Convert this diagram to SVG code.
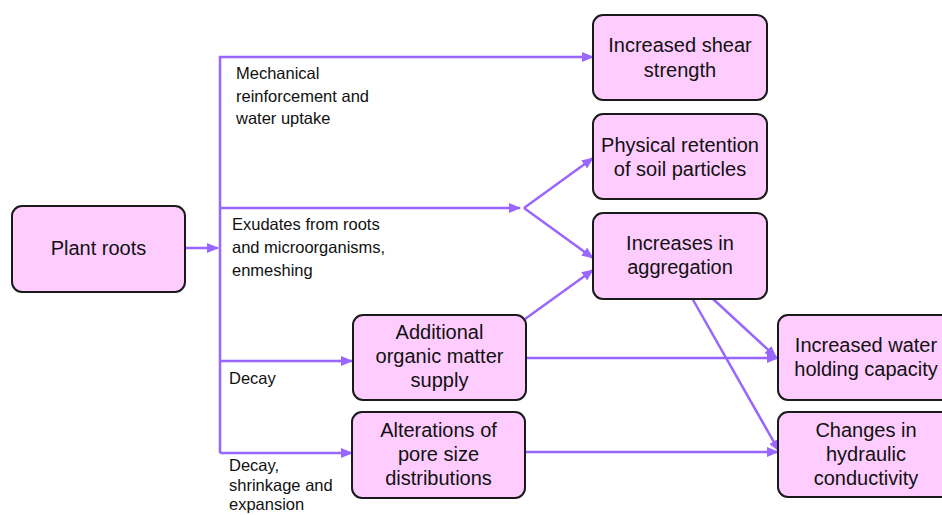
<svg xmlns="http://www.w3.org/2000/svg" width="942" height="515" viewBox="0 0 942 515">
<defs>
<marker id="ah" markerWidth="12" markerHeight="10" refX="11" refY="5" orient="auto" markerUnits="userSpaceOnUse">
<path d="M0,0 L12,5 L0,10 Z" fill="#9966FF"/>
</marker>
<style>
.box{fill:#FFCCFF;stroke:#1a1a1a;stroke-width:2}
.bt{font-family:"Liberation Sans",Arial,sans-serif;font-size:20px;fill:#111;text-anchor:middle}
.lb{font-family:"Liberation Sans",Arial,sans-serif;font-size:16.5px;fill:#111}
.c{fill:none;stroke:#9966FF;stroke-width:2.5}
</style>
</defs>
<rect width="942" height="515" fill="#fff"/>
<g id="connectors">
<line class="c" x1="185" y1="248" x2="218" y2="248" marker-end="url(#ah)"/>
<polyline class="c" points="220,453 220,57 593,57" marker-end="url(#ah)"/>
<line class="c" x1="220" y1="208" x2="520" y2="208" marker-end="url(#ah)"/>
<line class="c" x1="524" y1="208" x2="593" y2="158" marker-end="url(#ah)"/>
<line class="c" x1="524" y1="208" x2="593" y2="258" marker-end="url(#ah)"/>
<line class="c" x1="220" y1="361" x2="352" y2="361" marker-end="url(#ah)"/>
<line class="c" x1="220" y1="453" x2="352" y2="453" marker-end="url(#ah)"/>
<line class="c" x1="525" y1="319" x2="593" y2="270" marker-end="url(#ah)"/>
<line class="c" x1="526" y1="358" x2="778" y2="358" marker-end="url(#ah)"/>
<line class="c" x1="525" y1="452" x2="778" y2="452" marker-end="url(#ah)"/>
<line class="c" x1="712" y1="298" x2="776" y2="357" marker-end="url(#ah)"/>
<line class="c" x1="692" y1="298" x2="779" y2="451" marker-end="url(#ah)"/>
</g>
<g id="labels">
<text class="lb" x="236" y="79">Mechanical</text>
<text class="lb" x="236" y="102">reinforcement and</text>
<text class="lb" x="236" y="124">water uptake</text>
<text class="lb" x="232" y="230">Exudates from roots</text>
<text class="lb" x="232" y="253">and microorganisms,</text>
<text class="lb" x="232" y="276">enmeshing</text>
<text class="lb" x="229" y="384">Decay</text>
<text class="lb" x="229" y="471">Decay,</text>
<text class="lb" x="229" y="491">shrinkage and</text>
<text class="lb" x="229" y="510">expansion</text>
</g>
<g id="plant-roots">
<rect class="box" x="12" y="206" width="173" height="86" rx="10"/>
<text class="bt" x="98.5" y="255">Plant roots</text>
</g>
<g id="shear-strength">
<rect class="box" x="593" y="15" width="174" height="85" rx="10"/>
<text class="bt" x="680" y="52">Increased shear</text>
<text class="bt" x="680" y="77">strength</text>
</g>
<g id="physical-retention">
<rect class="box" x="593" y="114" width="174" height="85" rx="10"/>
<text class="bt" x="680" y="152">Physical retention</text>
<text class="bt" x="680" y="176">of soil particles</text>
</g>
<g id="aggregation">
<rect class="box" x="593" y="213" width="174" height="86" rx="10"/>
<text class="bt" x="680" y="250">Increases in</text>
<text class="bt" x="680" y="274">aggregation</text>
</g>
<g id="organic-matter">
<rect class="box" x="353" y="315" width="173" height="85" rx="10"/>
<text class="bt" x="439.5" y="339">Additional</text>
<text class="bt" x="439.5" y="363">organic matter</text>
<text class="bt" x="439.5" y="387">supply</text>
</g>
<g id="pore-size">
<rect class="box" x="352" y="412" width="173" height="86" rx="10"/>
<text class="bt" x="438.5" y="437">Alterations of</text>
<text class="bt" x="438.5" y="461">pore size</text>
<text class="bt" x="438.5" y="485">distributions</text>
</g>
<g id="water-holding">
<rect class="box" x="778" y="315" width="176" height="85" rx="10"/>
<text class="bt" x="866" y="352">Increased water</text>
<text class="bt" x="866" y="376">holding capacity</text>
</g>
<g id="hydraulic-conductivity">
<rect class="box" x="778" y="412" width="176" height="85" rx="10"/>
<text class="bt" x="866" y="437">Changes in</text>
<text class="bt" x="866" y="461">hydraulic</text>
<text class="bt" x="866" y="485">conductivity</text>
</g>
</svg>
